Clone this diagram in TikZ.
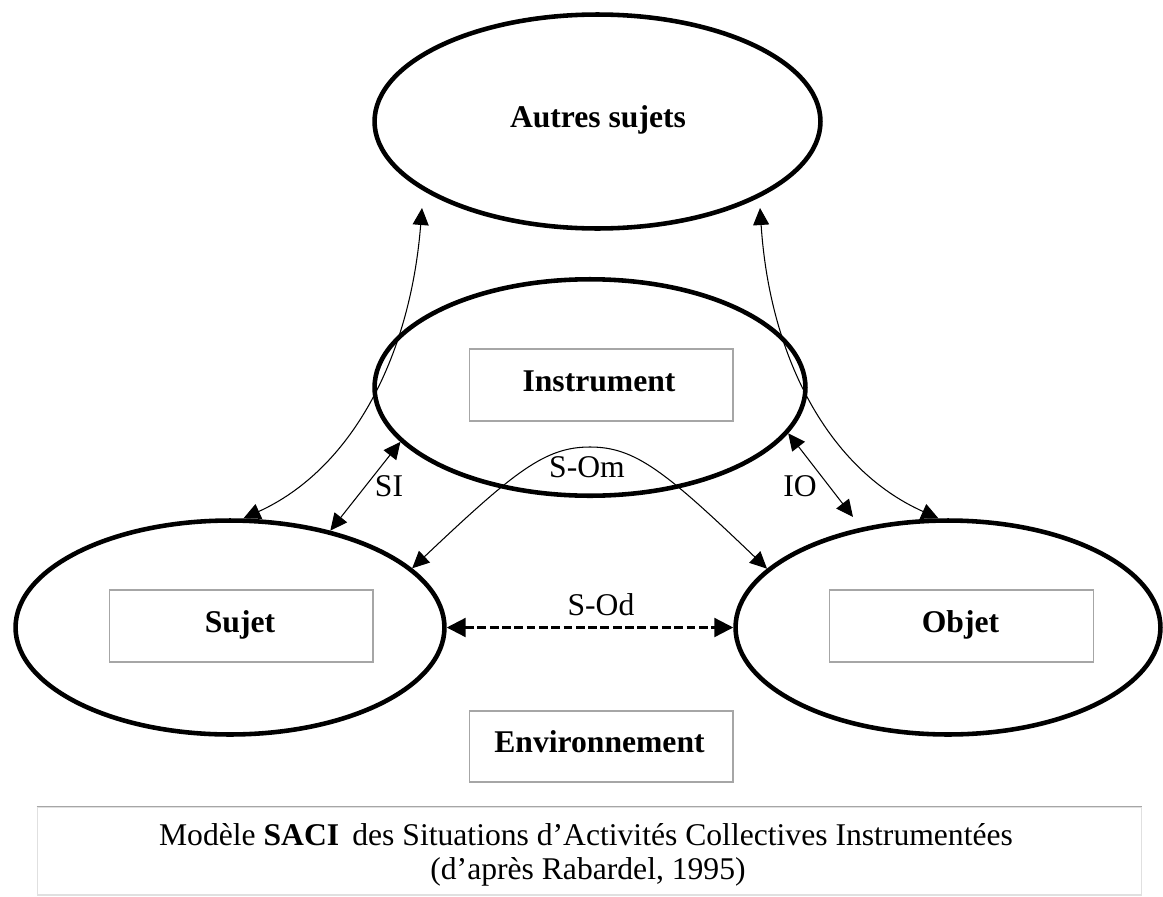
\documentclass[tikz,border=0pt]{standalone}
\usepackage{fontspec}
\setmainfont{Liberation Serif}
\usetikzlibrary{shapes.geometric,arrows.meta}
\begin{document}
\begin{tikzpicture}[x=0.02cm,y=-0.02cm,
  ell/.style={ellipse, draw, line width=2.6pt, inner sep=0pt, minimum height=4.28cm},
  tbox/.style={draw=black!35, line width=0.6pt, minimum width=5.28cm, minimum height=1.44cm, inner sep=0pt},
  lbl/.style={font=\fontsize{18}{21}\selectfont\bfseries, anchor=base, inner sep=0pt},
  rel/.style={font=\fontsize{18}{21}\selectfont, anchor=base, inner sep=0pt},
  arr/.style={line width=0.6pt, >={Triangle[length=0.34cm,width=0.32cm]}, <->},
  darr/.style={line width=1.3pt, dash pattern=on 5pt off 2pt, >={Triangle[length=0.38cm,width=0.38cm]}, <->}
]
\useasboundingbox (0,0) rectangle (1163,896);

% ellipses
\node[ell, minimum width=8.92cm] (autres) at (597.5,121.5) {};
\node[ell, minimum width=8.62cm, minimum height=4.33cm] (instr) at (590,387.5) {};
\node[ell, minimum width=8.58cm] (sujet) at (230,627.5) {};
\node[ell, minimum width=8.5cm] (objet) at (948,627.5) {};

% boxes and labels
\node[lbl] (autrest) at (598,127) {Autres sujets};
\node[tbox] (instrbox) at (601,385) {};
\node[lbl] (instrt) at (599,391) {Instrument};
\node[tbox] (sujetbox) at (241,626) {};
\node[lbl] (sujett) at (240,632) {Sujet};
\node[tbox] (objetbox) at (961.5,626) {};
\node[lbl] (objett) at (960.5,632) {Objet};
\node[tbox, minimum height=1.42cm] (envbox) at (601,746.5) {};
\node[lbl] (envt) at (599.5,752) {Environnement};

% free ends
\coordinate (aL) at (422,208);
\coordinate (aR) at (760,208);
\coordinate (ioB) at (853,517);
\coordinate (som) at (590,447);

% connectors
\draw[arr] (sujet.83) .. controls (350,470) and (410,360) .. (aL);
\draw[arr] (objet.95) .. controls (830,470) and (770,360) .. (aR);
\draw[arr] (sujet.44) -- (instr.196);
\draw[arr] (instr.347) -- (ioB);
\draw[arr] (sujet.18) .. controls (515,471) and (545,447) .. (som) .. controls (635,447) and (665,471) .. (objet.162);
\draw[darr] (sujet.east) -- (objet.west);

% relation labels
\node[rel] (lSI) at (389,496) {SI};
\node[rel] (lIO) at (800,496) {IO};
\node[rel] (lSOm) at (587,477) {S-Om};
\node[rel] (lSOd) at (601,615) {S-Od};

% caption
\node[draw=black!12, line width=0.6pt, minimum width=22.1cm, minimum height=1.76cm, inner sep=0pt] (capbox) at (589.5,851) {};
\draw[black!35, line width=1pt] (capbox.north west) -- (capbox.north east);
\node[rel] (cap1) at (586,845) {Modèle \textbf{SACI}\, des Situations d’Activités Collectives Instrumentées};
\node[rel] (cap2) at (588,879) {(d’après Rabardel, 1995)};
\end{tikzpicture}
\end{document}
